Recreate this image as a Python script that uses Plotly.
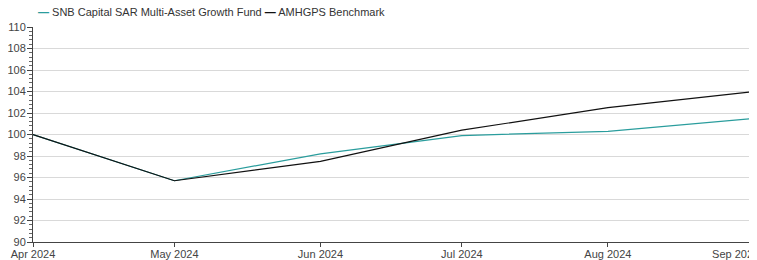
import plotly.graph_objects as go

dates = ["2024-04-01", "2024-05-01", "2024-06-01", "2024-07-01", "2024-08-01", "2024-09-01"]
tick_labels = ["Apr 2024", "May 2024", "Jun 2024", "Jul 2024", "Aug 2024", "Sep 2024"]
fund = [100.0, 95.7, 98.2, 99.9, 100.3, 101.5]
bench = [100.0, 95.7, 97.5, 100.4, 102.5, 104.0]
fund_name = "SNB Capital SAR Multi-Asset Growth Fund"
bench_name = "AMHGPS Benchmark"
fund_color = "#2a9d9d"
bench_color = "#111111"

# last label is pushed left (as in the reference) with trailing non-breaking spaces
tick_text = tick_labels[:-1] + [tick_labels[-1] + "&nbsp;" * 12]

fig = go.Figure()
fig.add_trace(go.Scatter(x=dates, y=fund, name=fund_name, mode="lines",
                         line=dict(color=fund_color, width=1.2)))
fig.add_trace(go.Scatter(x=dates, y=bench, name=bench_name, mode="lines",
                         line=dict(color=bench_color, width=1.2)))

legend_text = (f'<span style="color:{fund_color};font-weight:bold">—</span> {fund_name} '
               f'<span style="color:{bench_color};font-weight:bold">—</span> {bench_name}')
fig.add_annotation(text=legend_text, xref="paper", yref="paper", x=0.0, y=1.0,
                   xanchor="left", yanchor="bottom", yshift=7, xshift=3, showarrow=False,
                   font=dict(size=11, color="#333333"))

fig.update_layout(
    width=749, height=252,
    margin=dict(l=25, r=3, t=19, b=18, autoexpand=False),
    paper_bgcolor="white", plot_bgcolor="white",
    font=dict(family="Liberation Sans, Arial, sans-serif", size=11, color="#333333"),
    showlegend=False,
    xaxis=dict(
        type="date", range=["2024-04-01", "2024-09-01"],
        tickvals=dates, ticktext=tick_text,
        showgrid=False, showline=True, linecolor="#444444", linewidth=1,
        ticks="outside", ticklen=4, tickcolor="#444444",
        ticklabelstandoff=-2, ticklabeloverflow="allow",
        tickfont=dict(size=11, color="#444444"), zeroline=False,
    ),
    yaxis=dict(
        range=[90, 110], dtick=2, tick0=90,
        showgrid=True, gridcolor="#d9d9d9", gridwidth=1,
        showline=True, linecolor="#444444", linewidth=1,
        ticks="outside", ticklen=5, tickcolor="#444444",
        ticklabelstandoff=-1,
        tickfont=dict(size=11, color="#444444"), zeroline=False,
        minor=dict(dtick=0.4, ticks="outside", ticklen=3, tickcolor="#666666", showgrid=False),
    ),
)

fig.write_html("out.html")
